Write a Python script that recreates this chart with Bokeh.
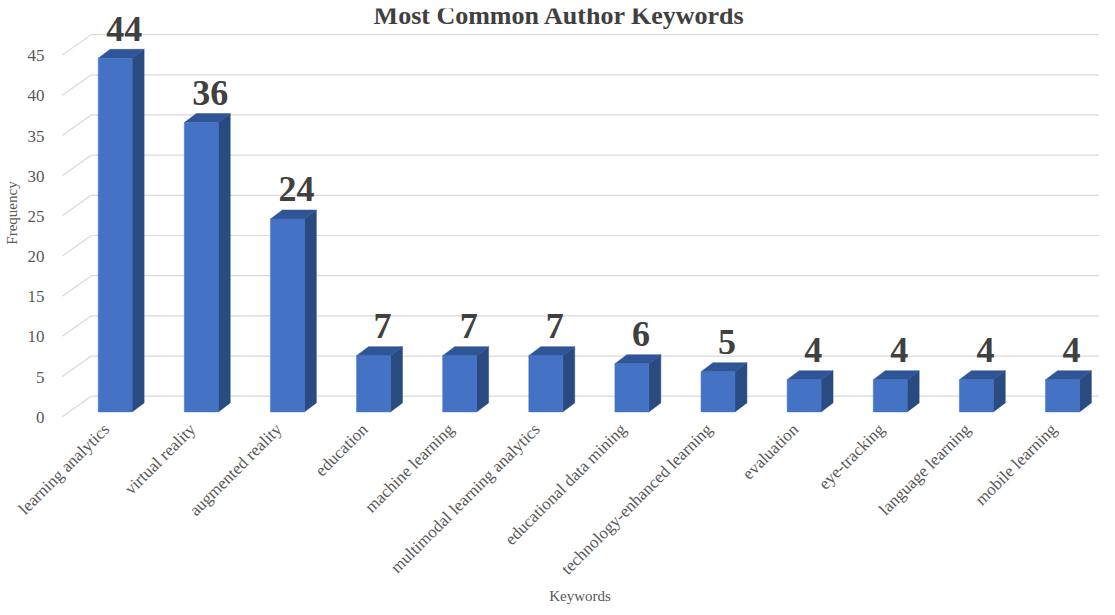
from bokeh.plotting import figure
from bokeh.models import Range1d, LinearAxis, FixedTicker, Label, ColumnDataSource
from bokeh.embed import file_html
from bokeh.resources import INLINE
from bokeh.core.properties import value
from math import pi

# ---------------- data ----------------
keywords = ["learning analytics", "virtual reality", "augmented reality", "education",
            "machine learning", "multimodal learning analytics", "educational data mining",
            "technology-enhanced learning", "evaluation", "eye-tracking",
            "language learning", "mobile learning"]
frequency = [44, 36, 24, 7, 7, 7, 6, 5, 4, 4, 4, 4]
y_ticks = [0, 5, 10, 15, 20, 25, 30, 35, 40, 45]
title_text = "Most Common Author Keywords"
x_title = "Keywords"
y_title = "Frequency"

# ---------------- style / geometry ----------------
FRONT = "#4472C4"
SIDE = "#2A4A82"
TOP = "#2F5597"
GRID = "#D9D9D9"
TXT = "#595959"
LBL = "#404040"
SERIF = "Liberation Serif"

HW = 0.197      # half bar width (category units)
DX = 0.139      # depth offset x
DZ = 1.12       # depth offset y (value units)
WALL_Z = 1.95   # back wall offset (value units)
WALL_X = -0.278 # back wall start x
DIAG_X = -0.614 # front start of the floor/wall diagonals
LAB_SHIFT = 0.68
TICK_SHIFT = 0.1  # category labels hang from the front edge of the 3D floor

X0, X1 = -0.635, 11.43
Y0, Y1 = -0.7, 50.2
PXU = 8.05

p = figure(width=1099, height=607, x_range=Range1d(X0, X1), y_range=Range1d(Y0, Y1),
           output_backend="svg", toolbar_location=None, y_axis_location=None,
           min_border_left=58, min_border_right=0, min_border_top=8, min_border_bottom=189,
           outline_line_color=None, background_fill_color="white", border_fill_color="white")
p.xgrid.visible = False
p.ygrid.visible = False

# back-wall gridlines and diagonals
n = len(keywords)
p.segment(x0=[WALL_X] * len(y_ticks), y0=[t + WALL_Z for t in y_ticks],
          x1=[X1] * len(y_ticks), y1=[t + WALL_Z for t in y_ticks],
          line_color=GRID, line_width=1.2)
p.segment(x0=[DIAG_X] * len(y_ticks), y0=[t - 0.6 for t in y_ticks],
          x1=[WALL_X] * len(y_ticks), y1=[t + WALL_Z for t in y_ticks],
          line_color=GRID, line_width=1.2)

idx = list(range(n))
# side faces
side_xs = [[i + HW, i + HW + DX, i + HW + DX, i + HW] for i in idx]
side_ys = [[0, DZ, v + DZ, v] for v in frequency]
p.patches(side_xs, side_ys, fill_color=SIDE, line_color=SIDE, line_width=0.5)
# top faces
top_xs = [[i - HW, i + HW, i + HW + DX, i - HW + DX] for i in idx]
top_ys = [[v, v, v + DZ, v + DZ] for v in frequency]
p.patches(top_xs, top_ys, fill_color=TOP, line_color=TOP, line_width=0.5)
# front faces
p.vbar(x=idx, top=frequency, bottom=0, width=2 * HW, fill_color=FRONT, line_color=FRONT,
       line_width=0.5)

# value labels
src = ColumnDataSource(dict(x=[i + 0.105 for i in idx], y=[v + 3.7 for v in frequency],
                            t=[str(v) for v in frequency]))
p.text(x="x", y="y", text="t", source=src, text_align="center", text_baseline="middle",
       text_font=value(SERIF), text_font_style="bold", text_font_size="36px",
       text_color=LBL)

# x axis
tick_pos = [i - TICK_SHIFT for i in idx]
xa = p.xaxis[0]
xa.ticker = FixedTicker(ticks=tick_pos)
xa.major_label_overrides = {t: k for t, k in zip(tick_pos, keywords)}
xa.major_label_orientation = pi / 4
xa.axis_line_color = None
xa.major_tick_line_color = None
xa.minor_tick_line_color = None
xa.major_label_text_font = SERIF
xa.major_label_text_font_size = "17px"
xa.major_label_text_color = TXT
xa.major_label_standoff = 3
xa.axis_label = x_title
xa.axis_label_text_font = SERIF
xa.axis_label_text_font_size = "15px"
xa.axis_label_text_font_style = "normal"
xa.axis_label_text_color = TXT
xa.axis_label_standoff = 0

# y axis (labels sit slightly below the front plane, as in the 3D original)
p.extra_y_ranges = {"lab": Range1d(Y0 + LAB_SHIFT, Y1 + LAB_SHIFT)}
ya = LinearAxis(y_range_name="lab", ticker=FixedTicker(ticks=y_ticks))
ya.axis_line_color = None
ya.major_tick_line_color = None
ya.minor_tick_line_color = None
ya.major_label_text_font = SERIF
ya.major_label_text_font_size = "17px"
ya.major_label_text_color = TXT
ya.major_label_standoff = 10
ya.axis_label = y_title
ya.axis_label_text_font = SERIF
ya.axis_label_text_font_size = "15px"
ya.axis_label_text_font_style = "normal"
ya.axis_label_text_color = TXT
ya.axis_label_standoff = 5
p.add_layout(ya, "left")

# title (the original's title sits at the very top edge)
p.add_layout(Label(x=5.16, y=Y1 + 8 / PXU, text=title_text, text_align="center",
                   text_baseline="top", text_font=SERIF, text_font_style="bold",
                   text_font_size="26px", text_color=LBL))

open("out.html", "w").write(file_html(p, INLINE))
